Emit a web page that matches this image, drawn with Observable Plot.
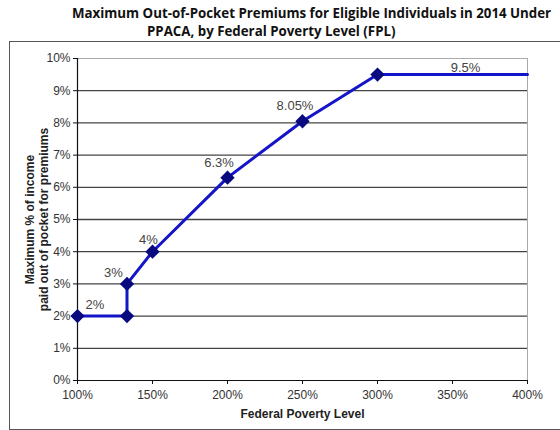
<!DOCTYPE html>
<html>
<head>
<meta charset="utf-8">
<script src="https://cdn.jsdelivr.net/npm/d3@7"></script>
<script src="https://cdn.jsdelivr.net/npm/@observablehq/plot@0.6"></script>
<style>
  html, body { margin: 0; padding: 0; background: #fff; overflow: hidden; }
  #wrap { position: relative; width: 560px; height: 430px; overflow: hidden; }
  #title { position: absolute; left: 0; top: 0; width: 560px; height: 40px;
    font-family: "Open Sans", "DejaVu Sans", sans-serif; font-weight: bold; font-size: 13.3px; color: #111; }
  #title div { position: absolute; white-space: nowrap; line-height: 18px; }
  #box { position: absolute; left: 9px; top: 41px; width: 600px; height: 387px; border: 1px solid #555; }
  #chart { position: absolute; left: 0; top: 40px; }
</style>
</head>
<body>
<div id="wrap">
  <div id="title">
    <div style="left:72px; top:4px;">Maximum Out-of-Pocket Premiums for Eligible Individuals in 2014 Under</div>
    <div style="left:147px; top:22px;">PPACA, by Federal Poverty Level (FPL)</div>
  </div>
  <div id="box"></div>
  <div id="chart"></div>
</div>
<script>
// Federal Poverty Level (%) and maximum premium (% of income)
const fpl = [100, 133, 133, 150, 200, 250, 300, 400];
const pct = [2, 2, 3, 4, 6.3, 8.05, 9.5, 9.5];
const markerIdx = [0, 1, 2, 3, 4, 5, 6];
const xTicks = [100, 150, 200, 250, 300, 350, 400];
const yTicks = [0, 1, 2, 3, 4, 5, 6, 7, 8, 9, 10];
const labelText = ["2%", "3%", "4%", "6.3%", "8.05%", "9.5%"];
const labelFpl = [100, 133, 150, 200, 250, 350];
const labelPct = [2, 3, 4, 6.3, 8.05, 9.5];

const series = fpl.map((x, i) => ({x, y: pct[i]}));
const markers = markerIdx.map(i => series[i]);
const labels = labelText.map((t, i) => ({x: labelFpl[i], y: labelPct[i], t}));
const offsets = [[17.5, -11], [-13.5, -11.5], [-4, -12], [-8.5, -14.5], [-7.5, -15], [13, -7]];

const font = "Liberation Sans, Arial, sans-serif";
const txt = "#333";

const plot = Plot.plot({
  width: 560,
  height: 390,
  marginTop: 18,
  marginBottom: 50,
  marginLeft: 77,
  marginRight: 33,
  style: {fontFamily: font, fontSize: "11px", color: txt, background: "transparent"},
  x: {domain: [100, 400], ticks: xTicks, tickFormat: d => d + "%", label: null},
  y: {domain: [0, 10], ticks: yTicks, tickFormat: d => d + "%", label: null},
  marks: [
    Plot.ruleY(yTicks.filter(d => d > 0 && d < 10), {stroke: "#444", strokeWidth: 1.3}),
    Plot.ruleY([10], {stroke: "#aaa", strokeWidth: 1}),
    Plot.ruleX([400], {stroke: "#aaa", strokeWidth: 1}),
    Plot.axisX({ticks: xTicks, tickFormat: d => d + "%", tickSize: 4, tickPadding: 6, fontSize: 12, stroke: "#111"}),
    Plot.axisY({ticks: yTicks, tickFormat: d => d + "%", tickSize: 4, tickPadding: 3, fontSize: 12, stroke: "#111"}),
    Plot.ruleY([0], {stroke: "#111", strokeWidth: 1.2}),
    Plot.ruleX([100], {stroke: "#111", strokeWidth: 1.2}),
    Plot.line(series, {x: "x", y: "y", stroke: "#1414c8", strokeWidth: 3, clip: false}),
    Plot.dot(markers, {x: "x", y: "y", symbol: "diamond2", r: 5.5, fill: "#0a0a80", stroke: "#0a0a80"}),
    ...labels.map((d, i) => Plot.text([d], {x: "x", y: "y", text: "t", dx: offsets[i][0], dy: offsets[i][1],
      fontSize: 13, fill: "#444", fontFamily: font})),
    Plot.text(["Federal Poverty Level"], {frameAnchor: "bottom", dy: 37, fontWeight: "bold", fontSize: 12, fill: "#222", fontFamily: font}),
    Plot.text(["Maximum % of income"], {frameAnchor: "left", textAnchor: "middle", dx: -47, rotate: -90, fontWeight: "bold", fontSize: 12, fill: "#222", fontFamily: font}),
    Plot.text(["paid out of pocket for premiums"], {frameAnchor: "left", textAnchor: "middle", dx: -33, rotate: -90, fontWeight: "bold", fontSize: 12, fill: "#222", fontFamily: font})
  ]
});
document.getElementById("chart").appendChild(plot);
</script>
</body>
</html>
